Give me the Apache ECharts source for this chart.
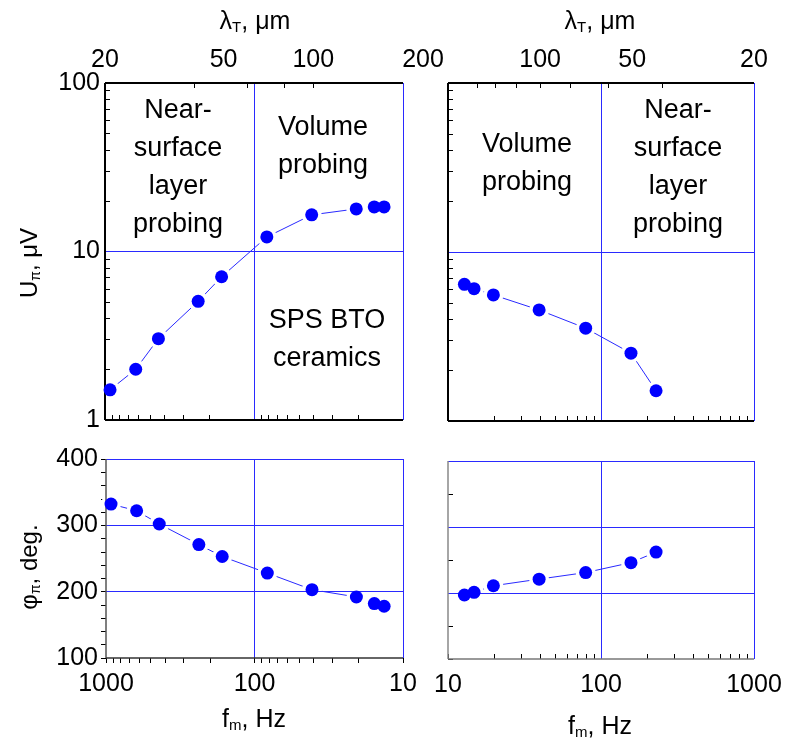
<!DOCTYPE html>
<html lang="en">
<head>
    <meta charset="UTF-8">
    <title></title>
    <script src="https://cdn.jsdelivr.net/npm/echarts@6/dist/echarts.min.js"></script>
</head>
<body style="margin:0;background:#fff">
<div id="box1" style="width: 787px;height: 749px"></div>
<script>
    // frequency, Hz
    var fLeft = [925, 622, 438, 237, 165, 82, 41, 20.6, 15.6, 13.4];
    var fRight = [12.8, 14.8, 19.8, 39.4, 79.4, 157, 229];
    // amplitude U, uV
    var uLeft = [1.51, 2.0, 3.04, 5.06, 7.08, 12.2, 16.5, 17.9, 18.4, 18.4];
    var uRight = [6.44, 6.07, 5.57, 4.54, 3.54, 2.52, 1.51];
    // phase, deg
    var phiLeft = [332, 322, 302, 271, 253, 228, 203, 192, 182, 178];
    var phiRight = [197, 201, 211, 221, 231, 246, 262];
    // thermal length axis (top), um
    var lambdaLabelsLeft = [20, 50, 100, 200];
    var lambdaLabelsRight = [100, 50, 20];
    var lambdaTicksLeft = [40, 60, 80, 100];
    var lambdaTicksRight = [40, 60, 80, 100, 120, 140, 160];
    // tick positions
    var phiTicksLeft = [100, 120, 140, 160, 180, 200, 220, 240, 260, 280, 300, 320, 340, 360, 380, 400];
    var phiTicksRight = [100, 150, 200, 250, 300, 350, 400];
    // blue grid lines
    var gridFLeft = [100, 10];
    var gridFRight = [100, 1000];
    var gridU = [10];
    var gridPhi = [200, 300, 400];

    var FONT = 'Liberation Sans, Arial, sans-serif';
    var BLUE = '#0000ff';
    var GRID = '#2a2aff';

    function pairs(xs, ys) {
        return xs.map(function (x, i) { return [x, ys[i]]; });
    }
    // 1-2-...-9 ticks per decade, from 10^lo to 10^hi
    function logTicks(lo, hi) {
        var out = [];
        for (var d = lo; d < hi; d++) {
            for (var k = 1; k <= 9; k++) out.push(k * Math.pow(10, d));
        }
        out.push(Math.pow(10, hi));
        return out;
    }
    // thermal length <-> frequency
    function lamToF(l) { return 1000 * Math.pow(20 / l, 2); }
    function fToLam(f) { return Math.round(20 * Math.sqrt(1000 / f)); }
    function plain(v) { return '' + Math.round(v); }
    var noLine = {show: false, onZero: false};

    function fAxis(grid, inverse, labels, inside) {
        return {
            type: 'log', logBase: 10, gridIndex: grid, min: 10, max: 1000, inverse: inverse,
            position: 'bottom', axisLine: noLine,
            axisTick: {show: true, inside: inside, length: 5, customValues: logTicks(1, 3),
                lineStyle: {color: '#000'}},
            axisLabel: {show: labels, margin: 14, fontSize: 25, fontFamily: FONT, color: '#000',
                formatter: plain},
            splitLine: {show: false}
        };
    }
    function lamAxis(grid, inverse, labels, ticks) {
        return {
            type: 'log', logBase: 10, gridIndex: grid, min: 10, max: 1000, inverse: inverse,
            position: 'top', axisLine: noLine,
            axisTick: {show: true, inside: true, length: 5, customValues: ticks.map(lamToF),
                lineStyle: {color: '#000'}},
            axisLabel: {
                show: true, margin: 10, fontSize: 25, fontFamily: FONT, color: '#000',
                customValues: labels.map(lamToF),
                formatter: function (v) {
                    var l = fToLam(v);
                    return l === 200 ? '{s|200}' : '' + l;
                },
                rich: {s: {fontSize: 25, fontFamily: FONT, color: '#000', padding: [0, 0, 0, 40]}}
            },
            splitLine: {show: false}
        };
    }
    function uAxis(grid, labels) {
        return {
            type: 'log', logBase: 10, gridIndex: grid, min: 1, max: 100, position: 'left',
            axisLine: noLine,
            axisTick: {show: true, inside: true, length: 5, customValues: logTicks(0, 2),
                lineStyle: {color: '#000'}},
            axisLabel: {show: labels, margin: 5, fontSize: 25, fontFamily: FONT, color: '#000',
                formatter: plain},
            splitLine: {show: false}
        };
    }
    function phiAxis(grid, labels, inside, ticks) {
        return {
            type: 'value', gridIndex: grid, min: 100, max: 400, interval: 100, position: 'left',
            axisLine: noLine,
            axisTick: {show: true, inside: inside, length: 5, customValues: ticks,
                lineStyle: {color: '#000'}},
            axisLabel: {show: labels, margin: 8, fontSize: 25, fontFamily: FONT, color: '#000'},
            splitLine: {show: false}
        };
    }

    // frame: [left, bottom, top] edge colours (null = none)
    function panel(xi, yi, data, gx, gy, xr, yr, frame, fw) {
        var lines = gx.map(function (v) { return {xAxis: v}; })
            .concat(gy.map(function (v) { return {yAxis: v}; }));
        var edges = [{xAxis: xr[0]}, {yAxis: yr[0]}, {yAxis: yr[1]}];
        edges.forEach(function (e, i) {
            if (frame[i]) {
                e.lineStyle = {color: frame[i], width: fw, type: 'solid'};
                lines.push(e);
            }
        });
        return [
            {type: 'line', xAxisIndex: xi, yAxisIndex: yi, data: data, symbol: 'none', z: 1,
                lineStyle: {color: GRID, width: 1}, silent: true},
            {type: 'scatter', xAxisIndex: xi, yAxisIndex: yi, data: data, symbolSize: 20, z: 2,
                itemStyle: {color: '#fff', opacity: 1}, silent: true},
            // grid lines and frame
            {type: 'line', xAxisIndex: xi, yAxisIndex: yi, data: data, symbol: 'none', z: 3,
                lineStyle: {opacity: 0}, silent: true,
                markLine: {silent: true, symbol: ['none', 'none'], label: {show: false},
                    lineStyle: {color: GRID, width: 1, type: 'solid', opacity: 1},
                    emphasis: {disabled: true}, data: lines}},
            {type: 'scatter', xAxisIndex: xi, yAxisIndex: yi, data: data, symbolSize: 13, z: 6,
                itemStyle: {color: BLUE, opacity: 1}, silent: true}
        ];
    }

    function txt(x, y, text, size, extra) {
        var st = {
            text: text, font: size + 'px ' + FONT, fill: '#000',
            align: 'center', verticalAlign: 'middle',
            textAlign: 'center', textVerticalAlign: 'middle', lineHeight: 38
        };
        for (var k in extra) st[k] = extra[k];
        return {type: 'text', x: x, y: y, z: 10, style: st};
    }
    var subRich = function (size) {
        return {
            n: {fontSize: size, fontFamily: FONT, fill: '#000', lineHeight: size + 6},
            s: {fontSize: Math.round(size * 0.6), fontFamily: FONT, fill: '#000', padding: [12, 0, 0, 0]}
        };
    };

    var chart = echarts.init(document.getElementById('box1'));
    var option = {
        animation: false,
        backgroundColor: '#fff',
        grid: [
            {left: 105, top: 83, width: 298, height: 337, outerBoundsMode: 'none'},
            {left: 448, top: 83, width: 306, height: 338, outerBoundsMode: 'none'},
            {left: 106, top: 459, width: 297, height: 199, outerBoundsMode: 'none'},
            {left: 448, top: 461, width: 306, height: 198, outerBoundsMode: 'none'}
        ],
        xAxis: [
            fAxis(0, true, false, true),
            lamAxis(0, true, lambdaLabelsLeft, lambdaTicksLeft),
            fAxis(1, false, false, true),
            lamAxis(1, false, lambdaLabelsRight, lambdaTicksRight),
            fAxis(2, true, true, false),
            fAxis(3, false, true, true)
        ],
        yAxis: [
            uAxis(0, true),
            uAxis(1, false),
            phiAxis(2, true, false, phiTicksLeft),
            phiAxis(3, false, true, phiTicksRight)
        ],
        series: [].concat(
            panel(0, 0, pairs(fLeft, uLeft), gridFLeft, gridU, [1000, 10], [1, 100],
                ['#000', '#000', '#000'], 2),
            panel(2, 1, pairs(fRight, uRight), gridFRight, gridU, [10, 1000], [1, 100],
                ['#000', '#000', '#000'], 2),
            panel(4, 2, pairs(fLeft, phiLeft), gridFLeft, gridPhi, [1000, 10], [100, 400],
                ['#555', '#333', null], 1.5),
            panel(5, 3, pairs(fRight, phiRight), gridFRight, gridPhi, [10, 1000], [100, 400],
                ['#888', '#777', null], 1.5)
        ),
        graphic: [
            txt(255, 22, '{n|λ}{s|T}{n|, μm}', 25, {rich: subRich(25)}),
            txt(600, 22, '{n|λ}{s|T}{n|, μm}', 25, {rich: subRich(25)}),
            txt(254, 720, '{n|f}{s|m}{n|, Hz}', 25, {rich: subRich(25)}),
            txt(600, 727, '{n|f}{s|m}{n|, Hz}', 25, {rich: subRich(25)}),
            {type: 'text', x: 30, y: 263, rotation: Math.PI / 2, z: 10, style: {
                text: '{n|U}{s|π}{n|, μV}', align: 'center', verticalAlign: 'middle',
                textAlign: 'center', textVerticalAlign: 'middle', rich: subRich(24)}},
            {type: 'text', x: 30, y: 567, rotation: Math.PI / 2, z: 10, style: {
                text: '{n|φ}{s|π}{n|, deg.}', align: 'center', verticalAlign: 'middle',
                textAlign: 'center', textVerticalAlign: 'middle', rich: subRich(24)}},
            txt(178, 168, 'Near-\nsurface\nlayer\nprobing', 27),
            txt(323, 147, 'Volume\nprobing', 27),
            txt(327, 340, 'SPS BTO\nceramics', 27),
            txt(527, 164, 'Volume\nprobing', 27),
            txt(678, 168, 'Near-\nsurface\nlayer\nprobing', 27)
        ]
    };
    chart.setOption(option);
</script>
</body>
</html>
